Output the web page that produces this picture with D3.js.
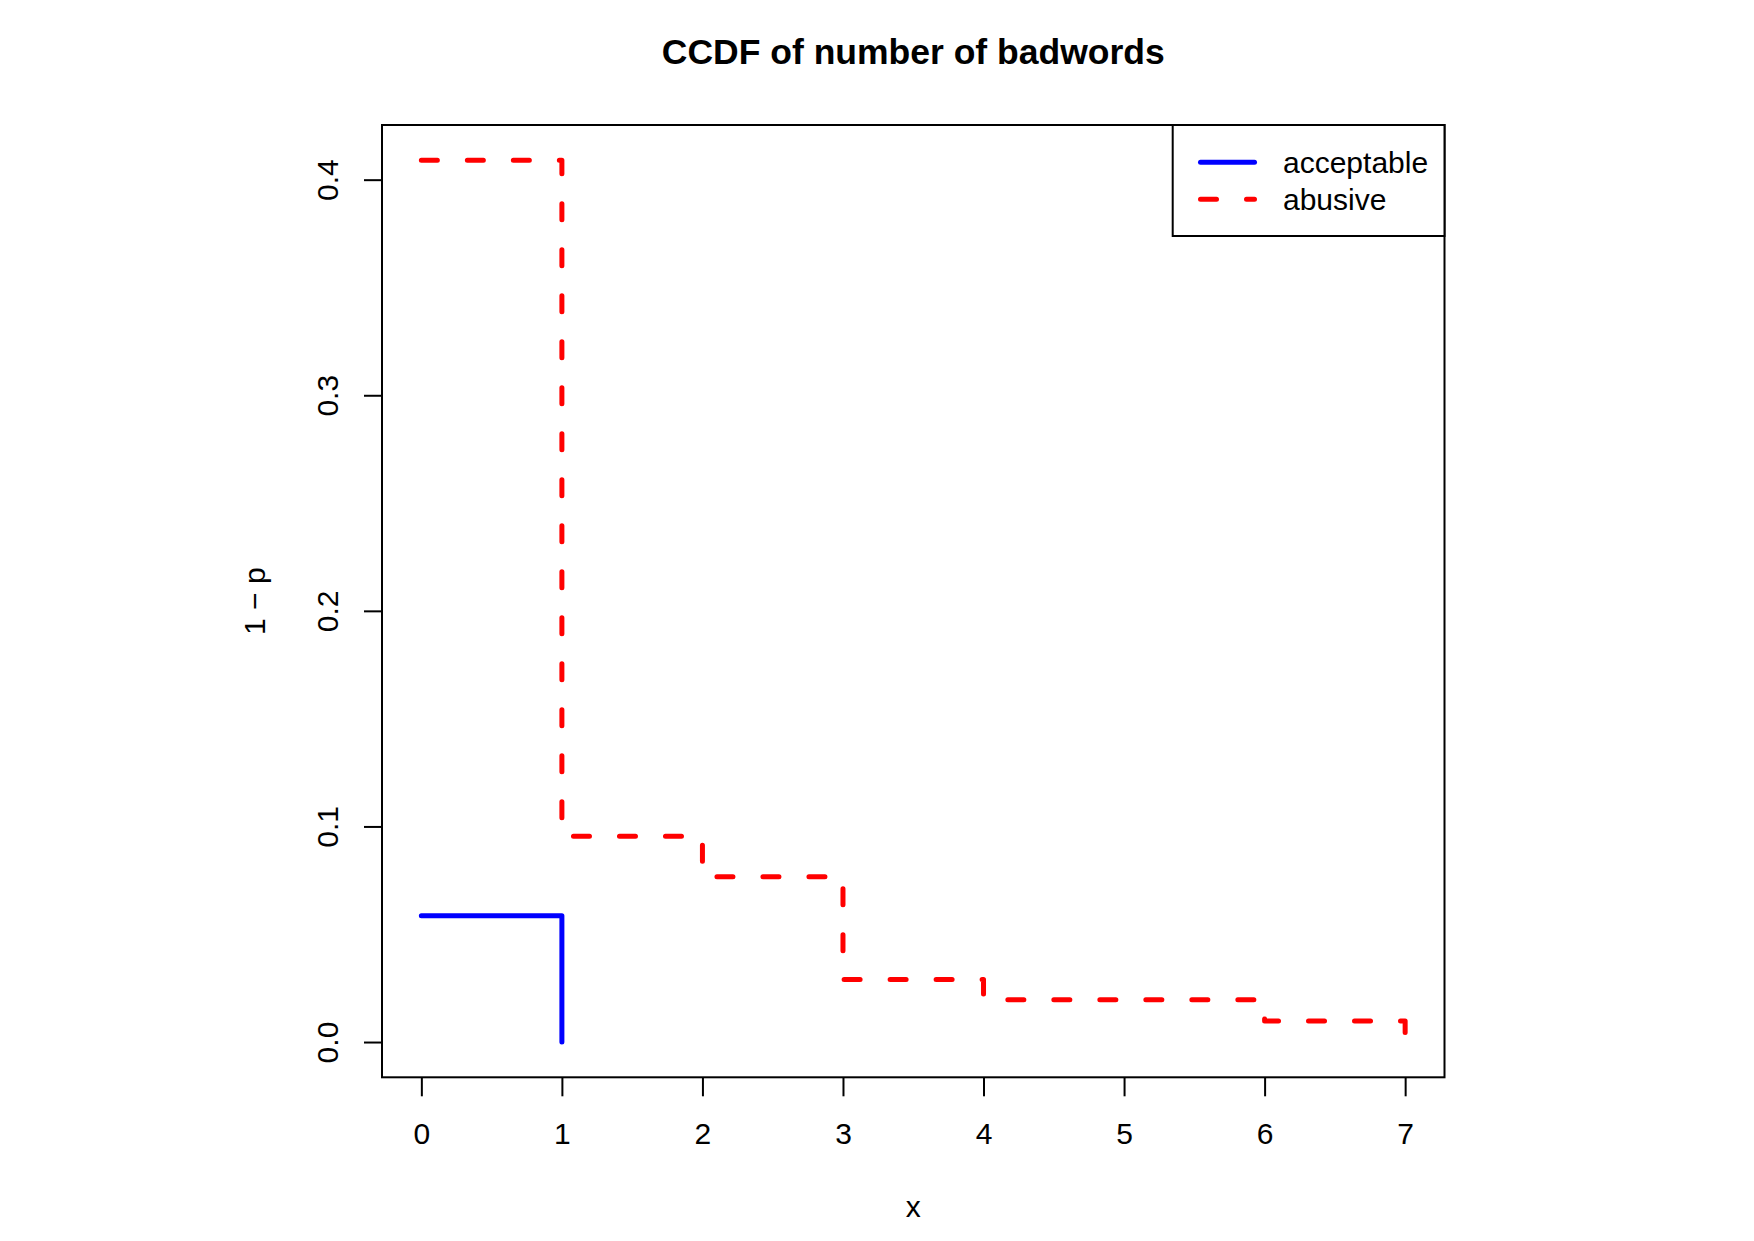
<!DOCTYPE html>
<html>
<head>
<meta charset="utf-8">
<script src="https://cdn.jsdelivr.net/npm/d3@7"></script>
<style>
  body { margin: 0; background: #fff; }
  svg { display: block; font-family: "Liberation Sans", Arial, sans-serif; }
</style>
</head>
<body>
<svg id="chart" width="1754" height="1241"></svg>
<script>
// step points
const xSteps = [0, 1, 2, 3, 4, 5, 6, 7];
const abusive = [0.409, 0.0955, 0.0767, 0.029, 0.0196, 0.0196, 0.0097, 0];
const acceptableX = [0, 1];
const acceptable = [0.0586, 0];

const xTicks = [0, 1, 2, 3, 4, 5, 6, 7];
const yTicks = [0, 0.1, 0.2, 0.3, 0.4];
const seriesNames = ["acceptable", "abusive"];

const box = { left: 382, right: 1444.5, top: 125, bottom: 1077.3 };
const fontSize = 30;

const svg = d3.select("#chart");

// R style 4% extension of data range
const xr = 7 - 0, yr = 0.409 - 0;
const x = d3
  .scaleLinear()
  .domain([0 - 0.04 * xr, 7 + 0.04 * xr])
  .range([box.left, box.right]);
const y = d3
  .scaleLinear()
  .domain([0 - 0.04 * yr, 0.409 + 0.04 * yr])
  .range([box.bottom, box.top]);

// x axis
svg
  .append("g")
  .attr("transform", `translate(0,${box.bottom})`)
  .call(d3.axisBottom(x).tickValues(xTicks).tickSize(19).tickPadding(26))
  .call((g) => g.select(".domain").remove())
  .call((g) => g.selectAll(".tick line").attr("stroke", "#000").attr("stroke-width", 2))
  .call((g) =>
    g.selectAll(".tick text").attr("fill", "#000").attr("font-size", fontSize)
      .attr("font-family", "Liberation Sans, Arial, sans-serif")
  );

// y axis, labels rotated like base R
svg
  .append("g")
  .attr("transform", `translate(${box.left},0)`)
  .call(d3.axisLeft(y).tickValues(yTicks).tickSize(18).tickFormat(d3.format(".1f")))
  .call((g) => g.select(".domain").remove())
  .call((g) => g.selectAll(".tick line").attr("stroke", "#000").attr("stroke-width", 2))
  .call((g) =>
    g.selectAll(".tick text")
      .attr("fill", "#000")
      .attr("font-size", fontSize)
      .attr("font-family", "Liberation Sans, Arial, sans-serif")
      .attr("transform", "rotate(-90)")
      .attr("text-anchor", "middle")
      .attr("x", 0)
      .attr("y", -44)
      .attr("dy", 0)
  );

// plot frame
svg
  .append("rect")
  .attr("x", box.left)
  .attr("y", box.top)
  .attr("width", box.right - box.left)
  .attr("height", box.bottom - box.top)
  .attr("fill", "none")
  .attr("stroke", "#000")
  .attr("stroke-width", 2);

const line = d3
  .line()
  .x((d) => x(d[0]))
  .y((d) => y(d[1]))
  .curve(d3.curveStepAfter);

svg
  .append("path")
  .datum(acceptableX.map((v, i) => [v, acceptable[i]]))
  .attr("d", line)
  .attr("fill", "none")
  .attr("stroke", "#0000ff")
  .attr("stroke-width", 5)
  .attr("stroke-linecap", "round")
  .attr("stroke-linejoin", "round");

svg
  .append("path")
  .datum(xSteps.map((v, i) => [v, abusive[i]]))
  .attr("d", line)
  .attr("fill", "none")
  .attr("stroke", "#ff0000")
  .attr("stroke-width", 5)
  .attr("stroke-dasharray", "16,30")
  .attr("stroke-linecap", "round")
  .attr("stroke-linejoin", "round");

// legend
const legend = svg.append("g");
legend
  .append("rect")
  .attr("x", 1172.7)
  .attr("y", box.top)
  .attr("width", box.right - 1172.7)
  .attr("height", 236 - box.top)
  .attr("fill", "#fff")
  .attr("stroke", "#000")
  .attr("stroke-width", 2);

const legColors = ["#0000ff", "#ff0000"];
const legDash = [null, "16,30"];
seriesNames.forEach((name, i) => {
  const ly = 162.3 + i * 37;
  legend
    .append("line")
    .attr("x1", 1200.5)
    .attr("x2", 1254.5)
    .attr("y1", ly)
    .attr("y2", ly)
    .attr("stroke", legColors[i])
    .attr("stroke-width", 5)
    .attr("stroke-linecap", "round")
    .attr("stroke-dasharray", legDash[i]);
  legend
    .append("text")
    .attr("x", 1283)
    .attr("y", ly + 11)
    .attr("font-size", fontSize)
    .text(name);
});

// titles
svg
  .append("text")
  .attr("x", (box.left + box.right) / 2)
  .attr("y", 63.5)
  .attr("text-anchor", "middle")
  .attr("font-size", 35.5)
  .attr("font-weight", "bold")
  .text("CCDF of number of badwords");

svg
  .append("text")
  .attr("x", (box.left + box.right) / 2)
  .attr("y", 1217)
  .attr("text-anchor", "middle")
  .attr("font-size", fontSize)
  .text("x");

svg
  .append("text")
  .attr("transform", `translate(265,${(box.top + box.bottom) / 2}) rotate(-90)`)
  .attr("text-anchor", "middle")
  .attr("font-size", fontSize)
  .text("1 \u2212 p");
</script>
</body>
</html>
